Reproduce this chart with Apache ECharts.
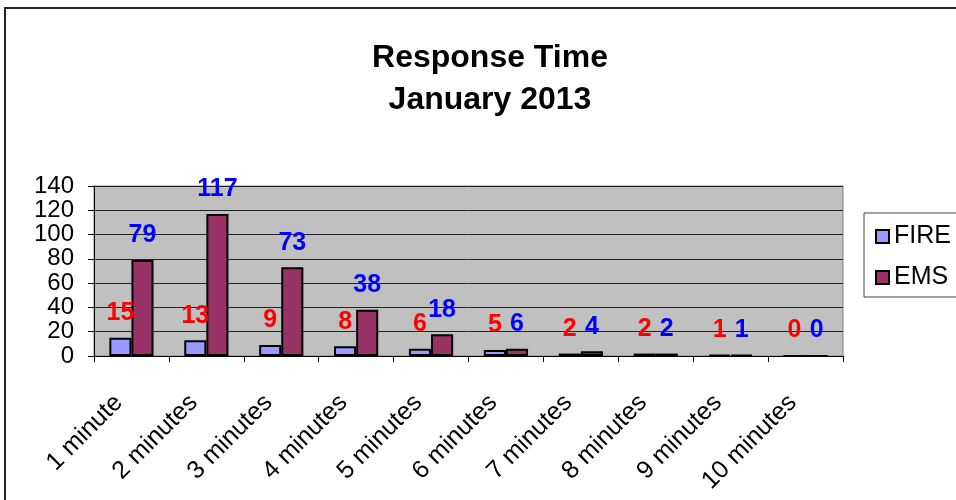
<!DOCTYPE html>
<html>
<head>
<meta charset="utf-8">
<script src="https://cdn.jsdelivr.net/npm/echarts@6/dist/echarts.min.js"></script>
<style>
  html, body { margin: 0; padding: 0; background: #fff; }
  #chart { width: 956px; height: 500px; }
</style>
</head>
<body>
<div id="chart"></div>
<script>
// data
var categories = ['1 minute', '2 minutes', '3 minutes', '4 minutes', '5 minutes',
  '6 minutes', '7 minutes', '8 minutes', '9 minutes', '10 minutes'];
var fireData = [15, 13, 9, 8, 6, 5, 2, 2, 1, 0];
var emsData = [79, 117, 73, 38, 18, 6, 4, 2, 1, 0];
var yTicks = [0, 20, 40, 60, 80, 100, 120, 140];

var font = 'Liberation Sans, Arial, sans-serif';

const responseChart = echarts.init(document.getElementById('chart'));
const responseChartOption = {
  animation: false,
  graphic: [
    {
      // outer chart frame
      type: 'rect',
      shape: { x: 5, y: 8, width: 1000, height: 600 },
      style: { fill: 'none', stroke: '#222', lineWidth: 2 }
    },
    {
      // title, centred a bit right of the page middle like the original
      type: 'text',
      x: 490,
      y: 37,
      style: {
        text: 'Response Time\nJanuary 2013',
        align: 'center',
        verticalAlign: 'top',
        fontFamily: font,
        fontSize: 32,
        fontWeight: 'bold',
        lineHeight: 42,
        fill: '#000'
      }
    },
    {
      // legend frame
      type: 'rect',
      shape: { x: 864, y: 213, width: 120, height: 84 },
      style: { fill: '#fff', stroke: '#444', lineWidth: 1 },
      z: 0
    }
  ],
  legend: {
    orient: 'vertical',
    left: 870,
    top: 219,
    itemWidth: 13,
    itemHeight: 13,
    itemGap: 16,
    icon: 'rect',
    textStyle: {
      fontFamily: font,
      fontSize: 25,
      color: '#000'
    },
    data: ['FIRE', 'EMS']
  },
  grid: {
    left: 94,
    right: 113,
    top: 186,
    bottom: 144,
    show: true,
    backgroundColor: '#C0C0C0',
    borderColor: '#808080',
    borderWidth: 1
  },
  xAxis: {
    type: 'category',
    data: categories,
    axisLine: { lineStyle: { color: '#000', width: 1 } },
    axisTick: { show: true, length: 6, lineStyle: { color: '#000' } },
    axisLabel: {
      interval: 0,
      rotate: 45,
      margin: 30,
      padding: [0, 18, 0, 0],
      fontFamily: font,
      fontSize: 25,
      color: '#000'
    }
  },
  yAxis: {
    type: 'value',
    min: yTicks[0],
    max: yTicks[yTicks.length - 1],
    interval: 20,
    axisLine: { show: true, lineStyle: { color: '#000', width: 1 } },
    axisTick: { show: true, length: 6, lineStyle: { color: '#000' } },
    axisLabel: {
      margin: 20,
      fontFamily: font,
      fontSize: 24,
      color: '#000'
    },
    splitLine: { lineStyle: { color: '#222', width: 1 } }
  },
  series: [
    {
      name: 'FIRE',
      type: 'bar',
      data: fireData,
      barGap: '0%',
      barCategoryGap: '41%',
      itemStyle: { color: '#9999FF', borderColor: '#000', borderWidth: 2 },
      label: {
        show: true,
        position: 'top',
        distance: 12,
        fontFamily: font,
        fontSize: 25,
        fontWeight: 'bold',
        color: '#FF0000'
      }
    },
    {
      name: 'EMS',
      type: 'bar',
      data: emsData,
      barGap: '0%',
      barCategoryGap: '41%',
      itemStyle: { color: '#993366', borderColor: '#000', borderWidth: 2 },
      label: {
        show: true,
        position: 'top',
        distance: 12,
        fontFamily: font,
        fontSize: 25,
        fontWeight: 'bold',
        color: '#0000FF'
      }
    }
  ]
};
responseChart.setOption(responseChartOption, true);
</script>
</body>
</html>
